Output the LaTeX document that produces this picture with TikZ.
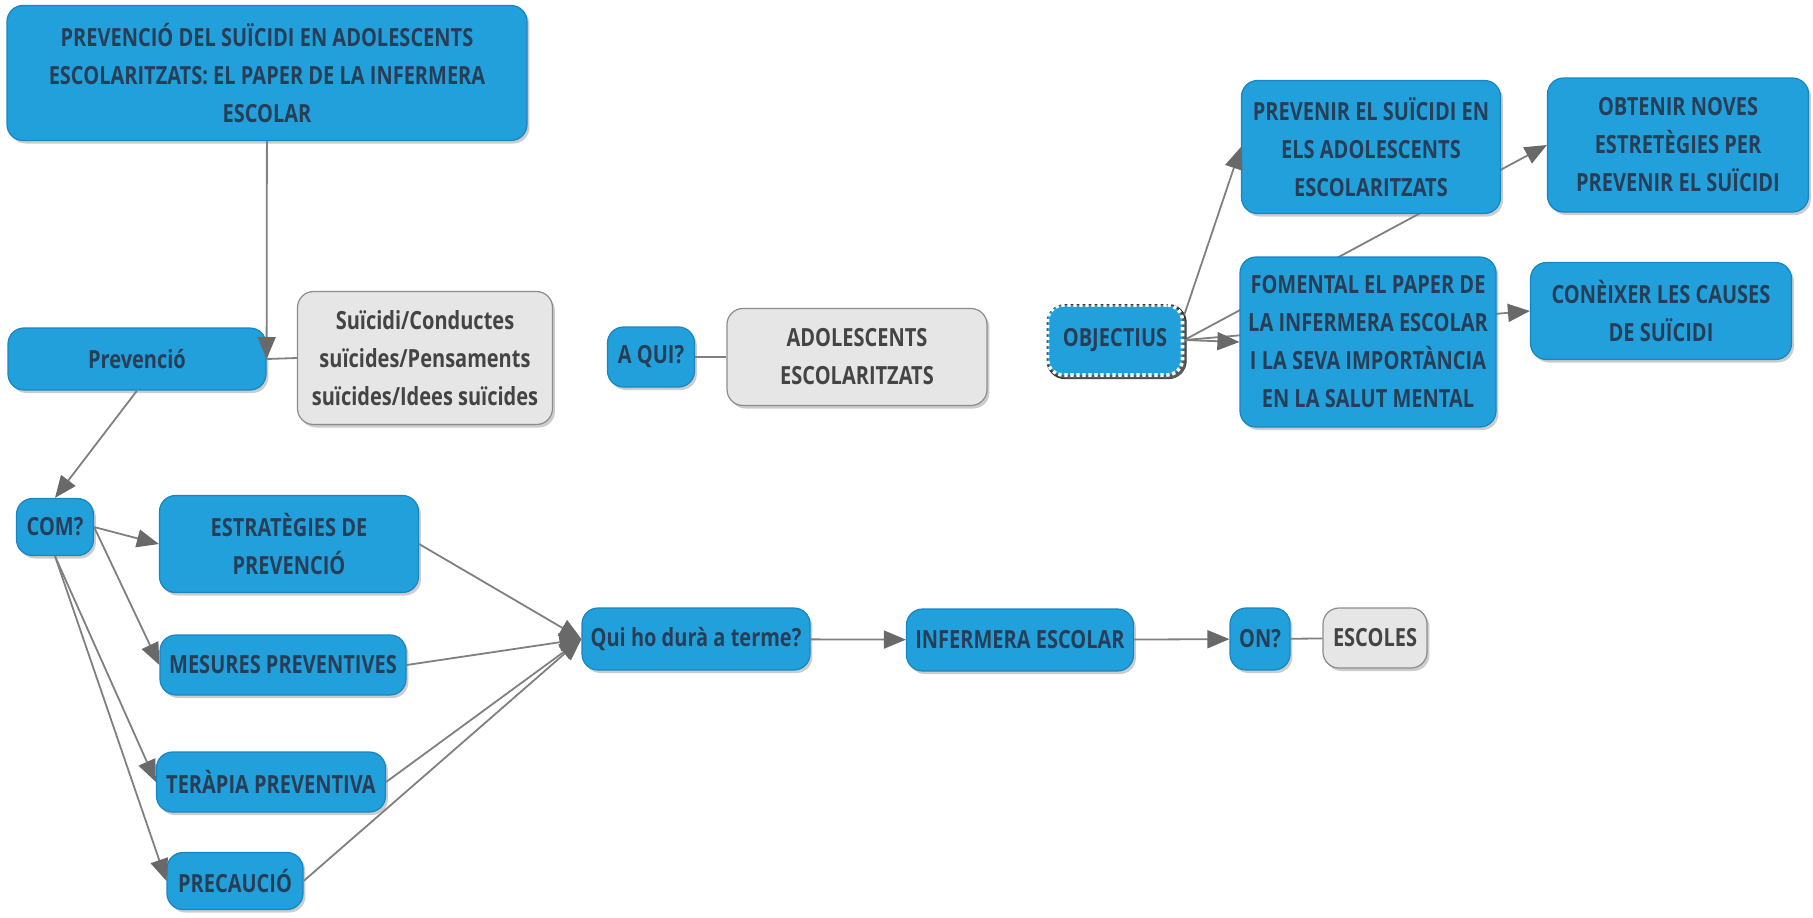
\documentclass[tikz,border=0pt]{standalone}
\usepackage{fontspec}
\setmainfont{Open Sans}[FakeStretch=0.8]
\usepackage{tikz}
\usetikzlibrary{arrows.meta,shadows,backgrounds}

\definecolor{boxblue}{RGB}{33,160,220}
\definecolor{boxedge}{RGB}{24,134,192}
\definecolor{boxtext}{RGB}{40,62,86}
\definecolor{greyfill}{RGB}{230,230,230}
\definecolor{greyedge}{RGB}{140,140,140}
\definecolor{greytext}{RGB}{68,68,68}
\definecolor{linkgrey}{RGB}{128,128,128}
\definecolor{tipgrey}{RGB}{105,105,105}

\begin{document}
\begin{tikzpicture}[x=0.5pt, y=-0.5pt,
  font=\fontsize{12.5}{19}\selectfont\bfseries,
  box/.style={rectangle, rounded corners=8pt, align=center, inner sep=0pt,
    fill=boxblue, draw=boxedge, line width=0.6pt, text=boxtext,
    drop shadow={shadow xshift=1.2pt, shadow yshift=-1.5pt, opacity=0.4}},
  greybox/.style={box, fill=greyfill, draw=greyedge, text=greytext},
  objbox/.style={rectangle, rounded corners=8pt, align=center, inner sep=0pt,
    fill=boxblue, draw=white, line width=1.8pt, dash pattern=on 1.6pt off 1.4pt,
    text=boxtext,
    preaction={draw=black!80, solid, line width=2.6pt, transform canvas={xshift=0.8pt, yshift=-0.8pt}},
    drop shadow={shadow xshift=1.6pt, shadow yshift=-1.8pt, opacity=0.5}},
  link/.style={draw=linkgrey, line width=0.9pt},
  arr/.style={link, -{Triangle[length=11pt, width=9pt, color=tipgrey]}}]

  \begin{scope}[on background layer]
    \fill[white] (0,0) rectangle (1813,917);
  \end{scope}
  \useasboundingbox (0,0) rectangle (1813,917);

  %% title and first row
  \node[box, minimum width=260pt, minimum height=67.5pt] (title) at (267,73)
    {PREVENCIÓ DEL SUÏCIDI EN ADOLESCENTS\\ESCOLARITZATS: EL PAPER DE LA INFERMERA\\ESCOLAR};
  \node[box, minimum width=129pt, minimum height=31pt] (prev) at (137,359) {Prevenció};
  \node[greybox, minimum width=127.5pt, minimum height=66.5pt] (suic) at (425,358)
    {Suïcidi/Conductes\\suïcides/Pensaments\\suïcides/Idees suïcides};
  \node[box, minimum width=43.5pt, minimum height=30pt] (aqui) at (651,357) {A QUI?};
  \node[greybox, minimum width=130pt, minimum height=48.5pt] (adol) at (857,357)
    {ADOLESCENTS\\ESCOLARITZATS};

  %% objectius
  \node[objbox, minimum width=67.5pt, minimum height=35pt] (obj) at (1115,340) {OBJECTIUS};
  \node[box, minimum width=129.5pt, minimum height=66.5pt] (prv) at (1371,147)
    {PREVENIR EL SUÏCIDI EN\\ELS ADOLESCENTS\\ESCOLARITZATS};
  \node[box, minimum width=130.5pt, minimum height=67pt] (obt) at (1678,145)
    {OBTENIR NOVES\\ESTRETÈGIES PER\\PREVENIR EL SUÏCIDI};
  \node[box, minimum width=128pt, minimum height=85pt] (fom) at (1368,342)
    {FOMENTAL EL PAPER DE\\LA INFERMERA ESCOLAR\\I LA SEVA IMPORTÀNCIA\\EN LA SALUT MENTAL};
  \node[box, minimum width=130.5pt, minimum height=48.5pt] (con) at (1661,311)
    {CONÈIXER LES CAUSES\\DE SUÏCIDI};

  %% com?
  \node[box, minimum width=38.5pt, minimum height=28.5pt] (com) at (55,527) {COM?};
  \node[box, minimum width=129.5pt, minimum height=48.5pt] (est) at (289,544)
    {ESTRATÈGIES DE\\PREVENCIÓ};
  \node[box, minimum width=123pt, minimum height=30pt] (mes) at (283,665) {MESURES PREVENTIVES};
  \node[box, minimum width=114.5pt, minimum height=30pt] (ter) at (271,782) {TERÀPIA PREVENTIVA};
  \node[box, minimum width=68pt, minimum height=28.5pt] (pre) at (235,881) {PRECAUCIÓ};

  %% who and where
  \node[box, minimum width=114pt, minimum height=31pt] (qui) at (696,639) {Qui ho durà a terme?};
  \node[box, minimum width=113.5pt, minimum height=31pt] (inf) at (1020,640) {INFERMERA ESCOLAR};
  \node[box, minimum width=30pt, minimum height=31pt] (on) at (1260,639) {ON?};
  \node[greybox, minimum width=52pt, minimum height=30pt] (esc) at (1375,638) {ESCOLES};

  %% links
  \draw[arr] (title) -- (prev.east);
  \draw[link] (prev.east) -- (suic.west);
  \draw[arr] (prev.south) -- (com.north);
  \draw[link] (aqui) -- (adol);

  \draw[arr] (obj.20) -- (prv.west);
  \draw[arr] (obj.east) -- (fom.west);
  \begin{scope}[on background layer]
    \draw[arr] (obj.east) -- (obt.west); % behind fom and prv
    \draw[arr] (obj.east) -- (con.west); % behind fom
  \end{scope}

  \draw[arr] (com.east) -- (est.west);
  \draw[arr] (com.east) -- (mes.west);
  \draw[arr] (com.south) -- (ter.west);
  \draw[arr] (com.south) -- (pre.west);

  \draw[arr] (est.east) -- (qui.west);
  \draw[arr] (mes.east) -- (qui.west);
  \draw[arr] (ter.east) -- (qui.west);
  \draw[arr] (pre.east) -- (qui.west);

  \draw[arr] (qui) -- (inf);
  \draw[arr] (inf) -- (on);
  \draw[link] (on) -- (esc);

\end{tikzpicture}
\end{document}
